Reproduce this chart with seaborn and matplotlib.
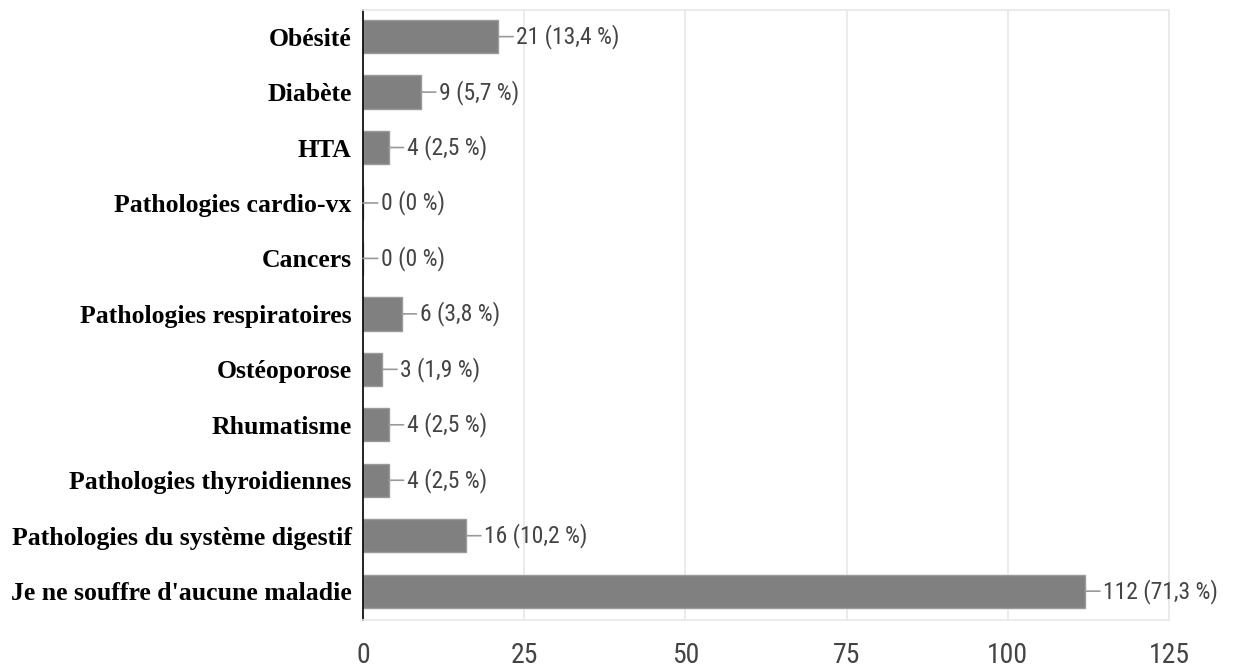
import matplotlib
matplotlib.use("Agg")
import matplotlib.pyplot as plt
import seaborn as sns
import pandas as pd
from matplotlib import font_manager

categories = [
    "Obésité",
    "Diabète",
    "HTA",
    "Pathologies cardio-vx",
    "Cancers",
    "Pathologies respiratoires",
    "Ostéoporose",
    "Rhumatisme",
    "Pathologies thyroidiennes",
    "Pathologies du système digestif",
    "Je ne souffre d'aucune maladie",
]
counts = [21, 9, 4, 0, 0, 6, 3, 4, 4, 16, 112]
percents = ["13,4", "5,7", "2,5", "0", "0", "3,8", "1,9", "2,5", "2,5", "10,2", "71,3"]
x_ticks = [0, 25, 50, 75, 100, 125]

# pick a condensed sans if one is installed (the reference uses a narrow face)
fonts = font_manager.fontManager.ttflist
names = {f.name for f in fonts}
narrow = dict(family="Liberation Sans", fontstretch="normal")
cond = False
for cand in ["Liberation Sans Narrow", "Roboto Condensed", "Open Sans Condensed"]:
    if cand in names:
        narrow = dict(family=cand, fontstretch="normal")
        cond = True
        break
else:
    for f in fonts:
        if f.name in ("Roboto", "DejaVu Sans", "Open Sans", "Noto Sans") and f.stretch == "condensed":
            narrow = dict(family=f.name, fontstretch="condensed")
            cond = True
            break

sns.set_theme(style="whitegrid")
df = pd.DataFrame({"cat": categories, "n": counts})

fig = plt.figure(figsize=(12.35, 6.72), dpi=100)
ax = fig.add_axes([0.2939, 0.0774, 0.6527, 0.9077])

sns.barplot(data=df, y="cat", x="n", orient="h", color="#808080",
            width=0.6, edgecolor="#9a9a9a", linewidth=1, saturation=1, ax=ax)

ann_size = 17 if cond else 15
for i, (v, p) in enumerate(zip(counts, percents)):
    ax.annotate(f"{v} ({p} %)", xy=(v, i), xytext=(13, 0), textcoords="offset points",
                ha="left", va="center", fontsize=ann_size, color="#444444",
                arrowprops=dict(arrowstyle="-", color="#999999", lw=1.2,
                                shrinkA=0, shrinkB=0), **narrow)

ax.set_xlim(0, 125)
ax.set_ylim(10.52, -0.48)
ax.set_xticks(x_ticks)
ax.set_xticklabels([str(t) for t in x_ticks], fontsize=20 if cond else 18,
                   color="#444444", **narrow)
ax.set_yticks(range(len(categories)))
ax.set_yticklabels(categories, family="Liberation Serif", fontweight="bold",
                   fontsize=18.5, color="black")
ax.tick_params(axis="y", length=0, pad=8)
ax.tick_params(axis="x", length=0, pad=16)
ax.set_xlabel("")
ax.set_ylabel("")
ax.grid(axis="x", color="#e8e8e8", lw=1.2)
ax.grid(axis="y", visible=False)
for side in ["top", "right", "bottom"]:
    ax.spines[side].set_color("#e8e8e8")
ax.spines["left"].set_color("black")
ax.spines["left"].set_linewidth(1.2)

fig.savefig("out.png", dpi=100)
